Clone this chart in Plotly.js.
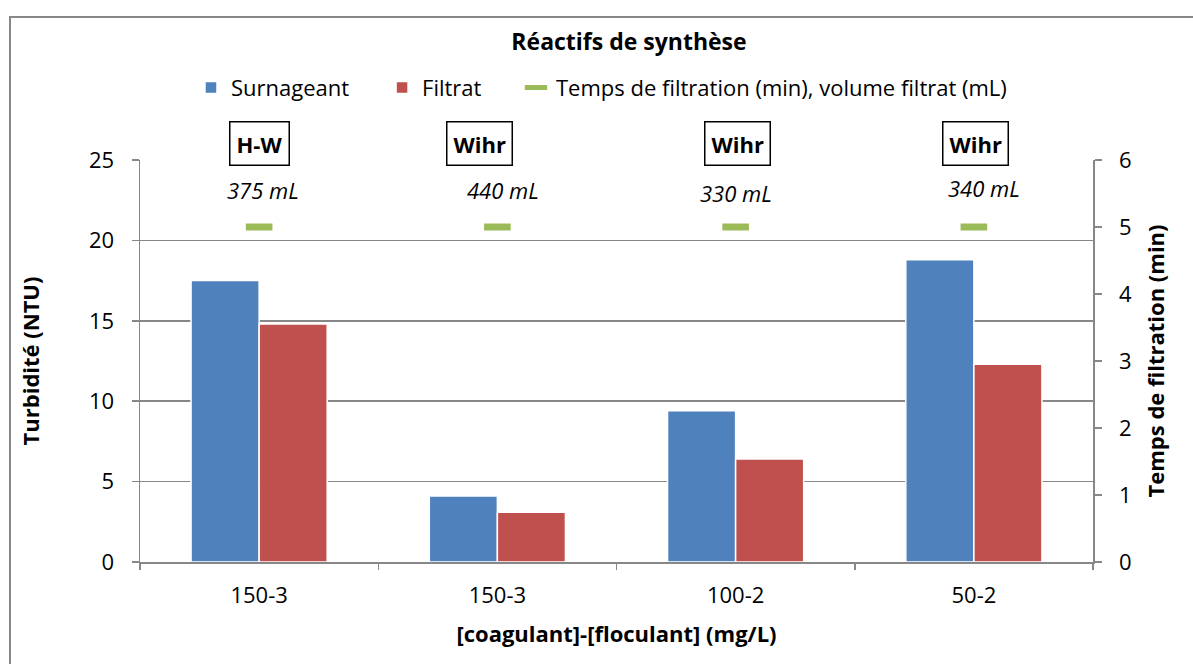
<!DOCTYPE html>
<html>
<head>
<meta charset="utf-8">
<script src="https://cdn.plot.ly/plotly-3.0.1.min.js"></script>
<style>
  html, body { margin: 0; padding: 0; background: #fff; }
  #wrap { position: relative; width: 1193px; height: 664px; overflow: hidden; }
  #chart { width: 1193px; height: 664px; }
  #frame { position: absolute; left: 9px; top: 16px; width: 1300px; height: 800px;
           border: 2px solid #878787; pointer-events: none; }
</style>
</head>
<body>
<div id="wrap">
  <div id="chart"></div>
  <div id="frame"></div>
</div>
<script>
// ---- data ----
const categories = ["150-3", "150-3", "100-2", "50-2"];
const surnageant = [17.5, 4.1, 9.4, 18.8];
const filtrat = [14.8, 3.1, 6.4, 12.3];
const tempsFiltration = [5, 5, 5, 5];
const volumes = ["375 mL", "440 mL", "330 mL", "340 mL"];
const reactifs = ["H-W", "Wihr", "Wihr", "Wihr"];

// ---- styles ----
const FONT = "Open Sans, Noto Sans, sans-serif";
const FS = 22;
const GRAY = "#878787";
const boxShift = [0, -18, 2, 2];
const volShift = [4, 6, 0, 10];
const volYShift = [0, 0, -3, 2];

const xs = categories.map((_, i) => i);

const traces = [
  {
    type: "bar", name: "Surnageant", x: xs, y: surnageant, legend: "legend",
    marker: { color: "#4F81BD", line: { color: "#ffffff", width: 1.5 } },
    hoverinfo: "skip"
  },
  {
    type: "bar", name: "Filtrat", x: xs, y: filtrat, legend: "legend2",
    marker: { color: "#C0504D", line: { color: "#ffffff", width: 1.5 } },
    hoverinfo: "skip"
  },
  {
    type: "scatter", mode: "markers", legend: "legend3",
    name: "Temps de filtration (min), volume filtrat (mL)",
    x: xs, y: tempsFiltration, xaxis: "x2", yaxis: "y2",
    marker: { symbol: "line-ew", size: 19, line: { width: 7, color: "#9BBB59" } },
    hoverinfo: "skip"
  }
];

const annotations = [];
reactifs.forEach((t, i) => {
  annotations.push({
    x: i, xref: "x", y: 0.985, yref: "paper", yanchor: "bottom", text: "<b>" + t + "</b>",
    showarrow: false, xshift: boxShift[i],
    font: { family: FONT, size: FS, color: "#000" },
    bordercolor: "#000", borderwidth: 1.5, borderpad: 6, bgcolor: "#fff"
  });
});
volumes.forEach((t, i) => {
  annotations.push({
    x: i, xref: "x", y: 5.55, yref: "y2", yanchor: "middle", text: "<i>" + t + "</i>",
    showarrow: false, xshift: volShift[i], yshift: volYShift[i],
    font: { family: FONT, size: FS, color: "#000" }
  });
});

const legendBase = {
  orientation: "h", xanchor: "left", y: 1.18, yanchor: "middle",
  font: { family: FONT, size: FS, color: "#000" }, bgcolor: "rgba(0,0,0,0)",
  itemwidth: 30
};

const layout = {
  width: 1193, height: 664,
  margin: { l: 140, r: 100, t: 160, b: 102, pad: 0 },
  paper_bgcolor: "#fff", plot_bgcolor: "#fff",
  font: { family: FONT, size: FS, color: "#000" },
  title: {
    text: "<b>Réactifs de synthèse</b>",
    font: { family: FONT, size: 23, color: "#000" },
    x: 629 / 1193, xanchor: "center", y: 1 - 42 / 664, yanchor: "middle"
  },
  showlegend: true,
  legend: Object.assign({}, legendBase, { x: 0.0535 }),
  legend2: Object.assign({}, legendBase, { x: 0.254 }),
  legend3: Object.assign({}, legendBase, { x: 0.3945 }),
  barmode: "group", bargap: 0.4286, bargroupgap: 0,
  xaxis: {
    range: [-0.5, 3.5], tickvals: xs, ticktext: categories, ticks: "",
    showline: true, linecolor: GRAY, linewidth: 1.5, showgrid: false, zeroline: false,
    ticklabelstandoff: 13, tickfont: { family: FONT, size: FS },
    title: { text: "<b>[coagulant]-[floculant] (mg/L)</b>", font: { family: FONT, size: FS }, standoff: 18 },
    fixedrange: true
  },
  xaxis2: {
    overlaying: "x", anchor: "y", side: "bottom", range: [-0.5, 3.5],
    tickvals: [-0.5, 0.5, 1.5, 2.5, 3.5], ticks: "outside", ticklen: 7,
    tickcolor: GRAY, tickwidth: 1.5, showticklabels: false, showgrid: false,
    zeroline: false, showline: false, fixedrange: true
  },
  yaxis: {
    range: [0, 25], dtick: 5, ticks: "outside", ticklen: 7, tickcolor: GRAY, tickwidth: 1.5,
    showline: true, linecolor: GRAY, linewidth: 1.5,
    showgrid: true, gridcolor: GRAY, gridwidth: 1.5, zeroline: false,
    ticklabelstandoff: 13, tickfont: { family: FONT, size: FS },
    title: { text: "<b>Turbidité (NTU)</b>", font: { family: FONT, size: FS }, standoff: 43 },
    fixedrange: true
  },
  yaxis2: {
    overlaying: "y", side: "right", anchor: "x", range: [0, 6], dtick: 1,
    ticks: "outside", ticklen: 7, tickcolor: GRAY, tickwidth: 1.5,
    showline: true, linecolor: GRAY, linewidth: 1.5, showgrid: false, zeroline: false,
    ticklabelstandoff: 13, tickfont: { family: FONT, size: FS },
    title: { text: "<b>Temps de filtration (min)</b>", font: { family: FONT, size: FS }, standoff: 17 },
    fixedrange: true
  },
  annotations: annotations
};

Plotly.newPlot("chart", traces, layout, { displayModeBar: false, staticPlot: true });
</script>
</body>
</html>
